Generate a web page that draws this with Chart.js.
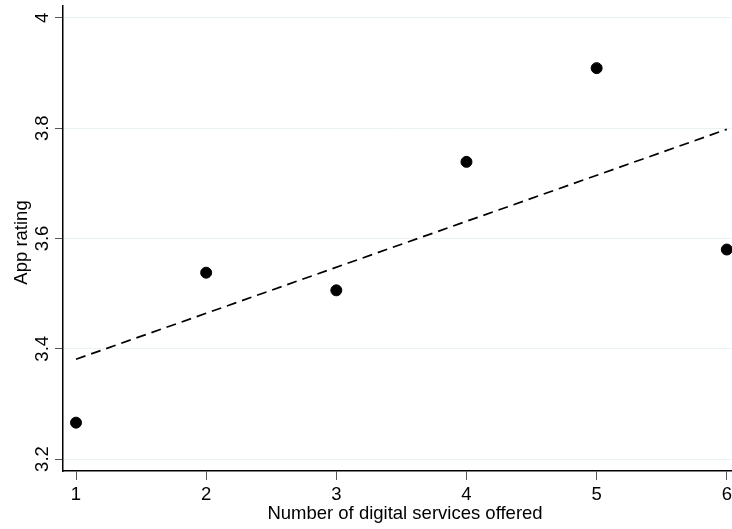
<!DOCTYPE html>
<html><head><meta charset="utf-8">
<script src="https://cdn.jsdelivr.net/npm/chart.js@4"></script>
<style>html,body{margin:0;padding:0;background:#fff;overflow:hidden}#wrap{width:732px;height:529px;position:relative}</style>
</head><body><div id="wrap"><canvas id="c"></canvas></div>
<script>
const services = [1, 2, 3, 4, 5, 6];
const ratings = [3.266, 3.538, 3.506, 3.739, 3.909, 3.580];
const fitX = [1, 6];
const fitY = [3.381, 3.798];
const yTicks = [3.2, 3.4, 3.6, 3.8, 4];
const xTicks = [1, 2, 3, 4, 5, 6];
const xTitle = 'Number of digital services offered';
const yTitle = 'App rating';

const FONT = '"Liberation Sans", Arial, sans-serif';
const FS = 18.5;

const textPlugin = {
  id: 'stataText',
  afterDraw(chart) {
    const ctx = chart.ctx;
    const ys = chart.scales.y;
    const xs = chart.scales.x;
    ctx.save();
    ctx.fillStyle = '#000';
    ctx.font = FS + 'px ' + FONT;
    ctx.textAlign = 'center';
    ctx.textBaseline = 'alphabetic';
    yTicks.forEach(v => {
      const py = ys.getPixelForValue(v);
      ctx.save();
      ctx.translate(48, py);
      ctx.rotate(-Math.PI / 2);
      ctx.fillText(String(v), 0, 0);
      ctx.restore();
    });
    xTicks.forEach(v => {
      ctx.fillText(String(v), xs.getPixelForValue(v), 500);
    });
    // y title
    ctx.save();
    ctx.translate(27, (chart.chartArea.top + chart.chartArea.bottom) / 2 + 4);
    ctx.rotate(-Math.PI / 2);
    ctx.fillText(yTitle, 0, 0);
    ctx.restore();
    // x title
    ctx.fillText(xTitle, 405, 518.5);
    ctx.restore();
  }
};

new Chart(document.getElementById('c'), {
  type: 'scatter',
  data: {
    datasets: [
      {
        type: 'line',
        data: fitX.map((x, i) => ({ x: x, y: fitY[i] })),
        borderColor: '#000',
        borderWidth: 1.7,
        borderDash: [10, 6],
        pointRadius: 0,
        fill: false,
        tension: 0,
        order: 2
      },
      {
        data: services.map((x, i) => ({ x: x, y: ratings[i] })),
        backgroundColor: '#000',
        borderColor: '#000',
        pointRadius: 5.5,
        pointHoverRadius: 5.5,
        clip: false,
        order: 1
      }
    ]
  },
  options: {
    responsive: true,
    maintainAspectRatio: false,
    animation: false,
    events: [],
    layout: { autoPadding: false, padding: { top: 6, right: 0, bottom: 0, left: 0 } },
    plugins: { legend: { display: false }, tooltip: { enabled: false } },
    scales: {
      x: {
        type: 'linear',
        min: 0.9,
        max: 6.04,
        afterBuildTicks(s) { s.ticks = xTicks.map(v => ({ value: v })); },
        afterFit(s) { s.height = 58; },
        grid: { display: true, drawOnChartArea: false, drawTicks: true, tickLength: 9, tickColor: '#555', lineWidth: 1 },
        border: { display: true, color: '#000', width: 1.5 },
        ticks: { display: false }
      },
      y: {
        type: 'linear',
        min: 3.1783,
        max: 4.0217,
        afterBuildTicks(s) { s.ticks = yTicks.map(v => ({ value: v })); },
        afterFit(s) { s.width = 63; },
        grid: { display: true, drawOnChartArea: true, drawTicks: true, tickLength: 8, color: '#eaf2f3', tickColor: '#555', lineWidth: 1 },
        border: { display: true, color: '#000', width: 1.5 },
        ticks: { display: false }
      }
    }
  },
  plugins: [textPlugin]
});
</script>
</body></html>
